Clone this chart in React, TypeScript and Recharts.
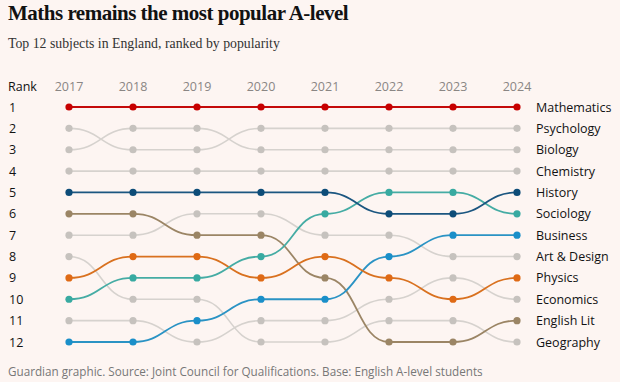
import React from 'react';
import { LineChart, Line, XAxis, YAxis } from 'recharts';

// Ranks, one value per year
const years = ['2017', '2018', '2019', '2020', '2021', '2022', '2023', '2024'];
const rankTicks = [1, 2, 3, 4, 5, 6, 7, 8, 9, 10, 11, 12];

const mathematics = [1, 1, 1, 1, 1, 1, 1, 1];
const psychology = [2, 3, 3, 2, 2, 2, 2, 2];
const biology = [3, 2, 2, 3, 3, 3, 3, 3];
const chemistry = [4, 4, 4, 4, 4, 4, 4, 4];
const history = [5, 5, 5, 5, 5, 6, 6, 5];
const sociology = [10, 9, 9, 8, 6, 5, 5, 6];
const business = [12, 12, 11, 10, 10, 8, 7, 7];
const artDesign = [7, 7, 6, 6, 7, 7, 8, 8];
const physics = [9, 8, 8, 9, 8, 9, 10, 9];
const economics = [11, 11, 12, 11, 11, 10, 9, 10];
const englishLit = [6, 6, 7, 7, 9, 12, 12, 11];
const geography = [8, 10, 10, 12, 12, 11, 11, 12];

const GREY = '#c6c2be';
const GREY_LINE = '#d6d2ce';

// grey first so the coloured ones sit on top
const subjects = [
  { key: 'Psychology', ranks: psychology, color: GREY, line: GREY_LINE },
  { key: 'Biology', ranks: biology, color: GREY, line: GREY_LINE },
  { key: 'Chemistry', ranks: chemistry, color: GREY, line: GREY_LINE },
  { key: 'Art & Design', ranks: artDesign, color: GREY, line: GREY_LINE },
  { key: 'Economics', ranks: economics, color: GREY, line: GREY_LINE },
  { key: 'Geography', ranks: geography, color: GREY, line: GREY_LINE },
  { key: 'English Lit', ranks: englishLit, color: '#9b8565', line: '#9b8565' },
  { key: 'Business', ranks: business, color: '#1a8fc9', line: '#2a93c4' },
  { key: 'Physics', ranks: physics, color: '#df6a15', line: '#d9711f' },
  { key: 'Sociology', ranks: sociology, color: '#38aaa1', line: '#45aca4' },
  { key: 'History', ranks: history, color: '#0d4c78', line: '#1b5680' },
  { key: 'Mathematics', ranks: mathematics, color: '#c70000', line: '#c40a0a' },
];

const data = years.map((year, i) => {
  const row: Record<string, string | number> = { year };
  subjects.forEach(s => {
    row[s.key] = s.ranks[i];
  });
  return row;
});

const lastIdx = years.length - 1;

const SANS = '"Open Sans", "Noto Sans", sans-serif';
const SERIF = '"Liberation Serif", "DejaVu Serif", serif';
const BG = '#fdf5f2';

const YearTick = (props: any) => (
  <text x={props.x} y={91} textAnchor="middle" fontSize={12.5} fill="#8a8684" fontFamily={SANS}>
    {props.payload.value}
  </text>
);

const RankTick = (props: any) => (
  <text x={9} y={props.y + 4.5} fontSize={12.5} fill="#121212" fontFamily={SANS}>
    {props.payload.value}
  </text>
);

// subject name next to the 2024 point
const endLabel = (name: string) => (props: any) => {
  if (props.index !== lastIdx) return null;
  return (
    <text key={name} x={536} y={props.y + 4.5} fontSize={12.5} fill="#121212" fontFamily={SANS}>
      {name}
    </text>
  );
};

export default function App() {
  return (
    <div style={{ position: 'fixed', left: 0, top: 0, width: 620, height: 382, background: BG, overflow: 'hidden' }}>
      <svg width={620} height={382} style={{ position: 'absolute', left: 0, top: 0 }}>
        <text x={8} y={20} fontFamily={SERIF} fontWeight={700} fontSize={21} fill="#121212" letterSpacing={-0.5}>
          Maths remains the most popular A-level
        </text>
        <text x={8} y={48} fontFamily={SERIF} fontSize={13.8} fill="#333">
          Top 12 subjects in England, ranked by popularity
        </text>
        <text x={8} y={91} fontFamily={SANS} fontSize={12.5} fill="#121212">
          Rank
        </text>
        <text x={8} y={376} fontFamily={SANS} fontSize={11.7} fill="#777">
          Guardian graphic. Source: Joint Council for Qualifications. Base: English A-level students
        </text>
      </svg>
      <div style={{ position: 'absolute', left: 0, top: 0 }}>
        <LineChart width={620} height={382} data={data} margin={{ top: 87, right: 103, bottom: 40, left: 0 }}>
          <XAxis
            dataKey="year"
            orientation="top"
            height={20}
            axisLine={false}
            tickLine={false}
            tick={<YearTick />}
            interval={0}
          />
          <YAxis
            orientation="left"
            width={69}
            type="number"
            domain={[1, 12]}
            ticks={rankTicks}
            reversed
            interval={0}
            axisLine={false}
            tickLine={false}
            tick={<RankTick />}
          />
          {subjects.map(s => (
            <Line
              key={s.key}
              dataKey={s.key}
              type="bumpX"
              stroke={s.line}
              strokeWidth={s.color === GREY ? 1.6 : 1.8}
              dot={{ r: 3.6, fill: s.color, stroke: 'none' }}
              activeDot={false}
              label={endLabel(s.key)}
              isAnimationActive={false}
            />
          ))}
        </LineChart>
      </div>
    </div>
  );
}
